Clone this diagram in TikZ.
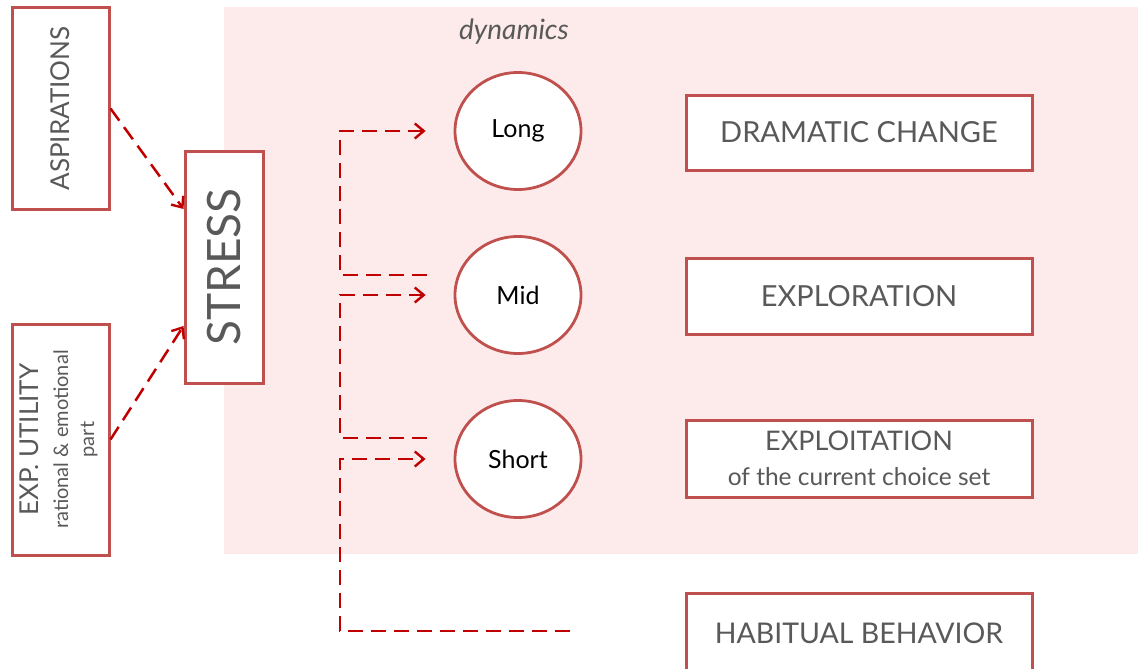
\documentclass[tikz,border=0pt]{standalone}
\usepackage{fontspec}
\setmainfont{Lato}
\usetikzlibrary{arrows.meta,shapes.geometric,calc}

\definecolor{boxRed}{HTML}{C0504D}
\definecolor{flowRed}{HTML}{C00000}
\definecolor{zonePink}{HTML}{FDEBEB}
\definecolor{textGray}{HTML}{595959}

\tikzset{
  factorBox/.style={draw=boxRed, line width=3pt, fill=white, inner sep=0pt, text=textGray, align=center},
  modeBox/.style={factorBox, minimum width=346pt},
  horizon/.style={ellipse, draw=boxRed, line width=2.8pt, fill=white, minimum width=126pt, minimum height=117pt, inner sep=0pt, font=\fontsize{25}{28}\selectfont},
  flowArrow/.style={draw=flowRed, line width=2.5pt, dash pattern=on 15pt off 8pt, -{Straight Barb[length=9pt,width=15pt,line width=2.4pt]}}
}

\begin{document}
\begin{tikzpicture}[x=1pt, y=-1pt]
  \useasboundingbox (0,0) rectangle (1138,669);
  \fill[zonePink] (224,7) rectangle (1138,554);
  \node[text=textGray, font=\itshape\fontsize{28}{32}\selectfont] (dyn) at (514,32) {dynamics};

  % inputs
  \node[factorBox, minimum width=97pt, minimum height=201pt] (asp) at (60.5,108.5)
    {\rotatebox{90}{\fontsize{26}{30}\selectfont ASPIRATIONS}};
  \node[factorBox, minimum width=97pt, minimum height=231pt] (exp) at (60.5,439.5)
    {\rotatebox{90}{\fontsize{20}{24}\selectfont\begin{tabular}{@{}c@{}}{\fontsize{26}{30}\selectfont EXP. UTILITY}\\[6pt]
      rational \& emotional\\[2pt] part\end{tabular}}};
  \node[factorBox, minimum width=78pt, minimum height=232pt] (stress) at (224,267)
    {\rotatebox{90}{\fontsize{46}{50}\selectfont STRESS}};

  % time horizons
  \node[horizon] (long) at (518,131) {Long};
  \node[horizon] (mid) at (518,295) {Mid};
  \node[horizon] (short) at (518,459) {Short};

  % behaviour modes
  \node[modeBox, minimum height=75pt, font=\fontsize{29}{32}\selectfont] (drama) at (859,132.5) {DRAMATIC CHANGE};
  \node[modeBox, minimum height=76pt, font=\fontsize{29}{32}\selectfont] (explor) at (859,296) {EXPLORATION};
  \node[modeBox, minimum height=77pt, font=\fontsize{24.5}{35}\selectfont] (exploit) at (859,458.5)
    {{\fontsize{27}{30}\selectfont EXPLOITATION}\\ of the current choice set};
  \node[modeBox, minimum height=80pt, font=\fontsize{28.5}{32}\selectfont] (habit) at (859,633) {HABITUAL BEHAVIOR};

  % free ends of the dashed flows
  \coordinate (midFree) at (427,275);
  \coordinate (shortFree) at (427,438);
  \coordinate (habitFree) at (570,631);

  \draw[flowArrow] (asp.east) -- ([yshift=58pt]stress.west);
  \draw[flowArrow] (exp.east) -- ([yshift=-59pt]stress.west);

  \draw[flowArrow] (midFree) -- +(-87,0) |- ([xshift=-28pt]long.west);
  \draw[flowArrow] (shortFree) -- +(-87,0) |- ([xshift=-28pt]mid.west);
  \draw[flowArrow] (habitFree) -- +(-230,0) |- ([xshift=-28pt]short.west);
\end{tikzpicture}
\end{document}
